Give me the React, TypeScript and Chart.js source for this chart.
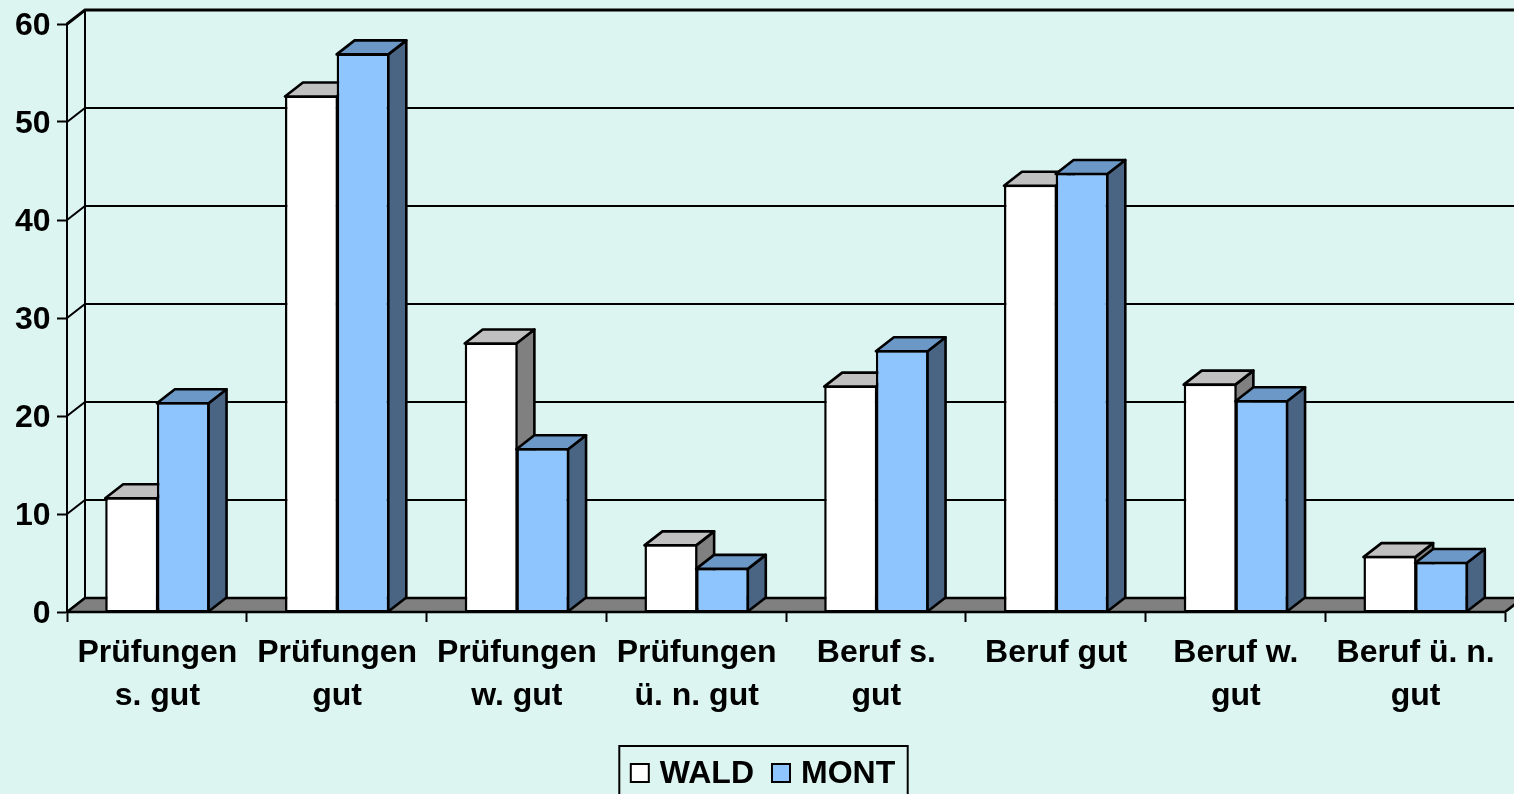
import React, { useEffect, useRef } from "react";
import { Chart, registerables } from "chart.js";

Chart.register(...registerables);

const categories = [
  ["Prüfungen", "s. gut"],
  ["Prüfungen", "gut"],
  ["Prüfungen", "w. gut"],
  ["Prüfungen", "ü. n. gut"],
  ["Beruf s.", "gut"],
  ["Beruf gut"],
  ["Beruf w.", "gut"],
  ["Beruf ü. n.", "gut"],
];
const wald = [11.6, 52.6, 27.4, 6.8, 23, 43.5, 23.2, 5.6];
const mont = [21.3, 56.9, 16.6, 4.4, 26.6, 44.7, 21.5, 5];

const FONT = "'Liberation Sans', Arial, sans-serif";
const BG = "#DDF5F1";
const DX = 18;
const DY = 14;
const LW = 2.6;
const faces = [
  { front: "#FFFFFF", top: "#C0C0C0", side: "#808080" },
  { front: "#8FC5FF", top: "#6B98C6", side: "#4A6484" },
];

function poly(ctx: CanvasRenderingContext2D, pts: number[][], fill: string | null, lw = LW) {
  ctx.beginPath();
  pts.forEach((p, i) => (i ? ctx.lineTo(p[0], p[1]) : ctx.moveTo(p[0], p[1])));
  ctx.closePath();
  if (fill) {
    ctx.fillStyle = fill;
    ctx.fill();
  }
  ctx.lineWidth = lw;
  ctx.strokeStyle = "#000";
  ctx.lineJoin = "round";
  ctx.stroke();
}

function nudgeLabels(chart: any, id: string, dx: number, dy: number) {
  const s = chart.scales[id];
  if (s.__nudged) return;
  s.__nudged = true;
  const orig = s.drawLabels;
  s.drawLabels = function (area: any) {
    chart.ctx.save();
    chart.ctx.translate(dx, dy);
    orig.call(s, area);
    chart.ctx.restore();
  };
}

const wall3d = {
  id: "wall3d",
  beforeDraw(chart: any) {
    const { ctx, width, height } = chart;
    nudgeLabels(chart, "y", -0.5, 2.5);
    nudgeLabels(chart, "x", 0.5, 0);
    ctx.save();
    ctx.fillStyle = BG;
    ctx.fillRect(0, 0, width, height);
    ctx.restore();
  },
  beforeDatasetsDraw(chart: any) {
    const { ctx, chartArea: a, scales } = chart;
    ctx.save();
    ctx.strokeStyle = "#000";
    scales.y.ticks.forEach((t: any) => {
      const y = scales.y.getPixelForValue(t.value);
      const top = t.value === 60;
      ctx.beginPath();
      ctx.lineWidth = top ? 3 : 2;
      ctx.moveTo(a.left, y);
      ctx.lineTo(a.left + DX, y - DY);
      ctx.lineTo(a.right + DX, y - DY);
      ctx.stroke();
    });
    ctx.beginPath();
    ctx.lineWidth = 2;
    ctx.moveTo(a.left + DX, a.top - DY);
    ctx.lineTo(a.left + DX, a.bottom - DY);
    ctx.stroke();
    poly(
      ctx,
      [
        [a.left, a.bottom],
        [a.left + DX, a.bottom - DY],
        [a.right + DX, a.bottom - DY],
        [a.right, a.bottom],
      ],
      "#808080"
    );
    // Painter's order: WALD (faces, then front), then MONT on top of it.
    chart.data.datasets.forEach((_: any, i: number) => {
      const meta = chart.getDatasetMeta(i);
      const c = faces[i];
      meta.data.forEach((el: any) => {
        const { x, y, base, width } = el.getProps(["x", "y", "base", "width"], true);
        const l = x - width / 2;
        const r = x + width / 2;
        poly(ctx, [[r, y], [r + DX, y - DY], [r + DX, base - DY], [r, base]], c.side);
        poly(ctx, [[l, y], [l + DX, y - DY], [r + DX, y - DY], [r, y]], c.top);
      });
      meta.controller.draw();
    });
    ctx.restore();
  },
  beforeDatasetDraw() {
    return false;
  },
  afterDraw(chart: any) {
    const { ctx, width, height } = chart;
    const items = chart.data.datasets.map((d: any, i: number) => ({
      label: d.label,
      fill: faces[i].front,
    }));
    const size = 18;
    const gap = 11;
    const between = 18;
    const padX = 12;
    ctx.save();
    ctx.font = `bold 32px ${FONT}`;
    ctx.textBaseline = "middle";
    ctx.textAlign = "left";
    const widths = items.map((it: any) => ctx.measureText(it.label).width);
    const total =
      widths.reduce((s: number, w: number) => s + w + size + gap, 0) +
      between * (items.length - 1) +
      padX * 2;
    const bx = width / 2 - total / 2 + 6;
    const by = 746;
    ctx.strokeStyle = "#000";
    ctx.lineWidth = 2;
    ctx.strokeRect(bx + 0.5, by, total, height - by + 10);
    let x = bx + padX;
    const cy = 773;
    items.forEach((it: any, i: number) => {
      ctx.fillStyle = it.fill;
      ctx.fillRect(x, cy - size / 2, size, size);
      ctx.strokeRect(x, cy - size / 2, size, size);
      ctx.fillStyle = "#000";
      ctx.fillText(it.label, x + size + gap, cy + 1);
      x += size + gap + widths[i] + between;
    });
    ctx.restore();
  },
};

export default function App() {
  const ref = useRef<HTMLCanvasElement>(null);
  useEffect(() => {
    const chart = new Chart(ref.current as HTMLCanvasElement, {
      type: "bar",
      data: {
        labels: categories as any,
        datasets: [
          {
            label: "WALD",
            data: wald,
            backgroundColor: faces[0].front,
            borderColor: "#000",
            borderWidth: { top: 1.5, left: 2.5, bottom: 1.5, right: 1 },
            borderSkipped: false,
            clip: false,
          } as any,
          {
            label: "MONT",
            data: mont,
            backgroundColor: faces[1].front,
            borderColor: "#000",
            borderWidth: { top: 1.5, left: 2.5, bottom: 1.5, right: 1.5 },
            borderSkipped: false,
            clip: false,
          } as any,
        ],
      },
      options: {
        animation: false,
        responsive: false,
        devicePixelRatio: 1,
        layout: { padding: { top: 24, right: 9, left: 0, bottom: 0 } },
        plugins: {
          legend: { display: false },
          title: { display: false },
          tooltip: { enabled: false },
        },
        datasets: { bar: { barPercentage: 1, categoryPercentage: 0.575 } },
        scales: {
          x: {
            afterFit(scale: any) {
              scale.height = 182;
              scale.paddingLeft = 0;
              scale.paddingRight = 0;
            },
            border: { color: "#000", width: 2 },
            grid: {
              offset: true,
              drawOnChartArea: false,
              drawTicks: true,
              tickLength: 10,
              tickWidth: 2,
              tickColor: "#000",
            },
            ticks: {
              color: "#000",
              padding: 10,
              maxRotation: 0,
              autoSkip: false,
              font: { family: FONT, size: 32, weight: "bold", lineHeight: 1.33 },
            },
          },
          y: {
            min: 0,
            max: 60,
            afterFit(scale: any) {
              scale.width = 67;
              scale.paddingTop = 0;
              scale.paddingBottom = 0;
            },
            border: { color: "#000", width: 2 },
            grid: {
              drawOnChartArea: false,
              drawTicks: true,
              tickLength: 10,
              tickWidth: 2,
              tickColor: "#000",
            },
            ticks: {
              stepSize: 10,
              color: "#000",
              padding: 6,
              font: { family: FONT, size: 32, weight: "bold" },
            },
          },
        },
      } as any,
      plugins: [wall3d],
    });
    return () => chart.destroy();
  }, []);
  return (
    <div style={{ position: "fixed", left: 0, top: 0, width: 1514, height: 794, overflow: "hidden" }}>
      <canvas ref={ref} width={1514} height={794} style={{ display: "block" }} />
    </div>
  );
}
